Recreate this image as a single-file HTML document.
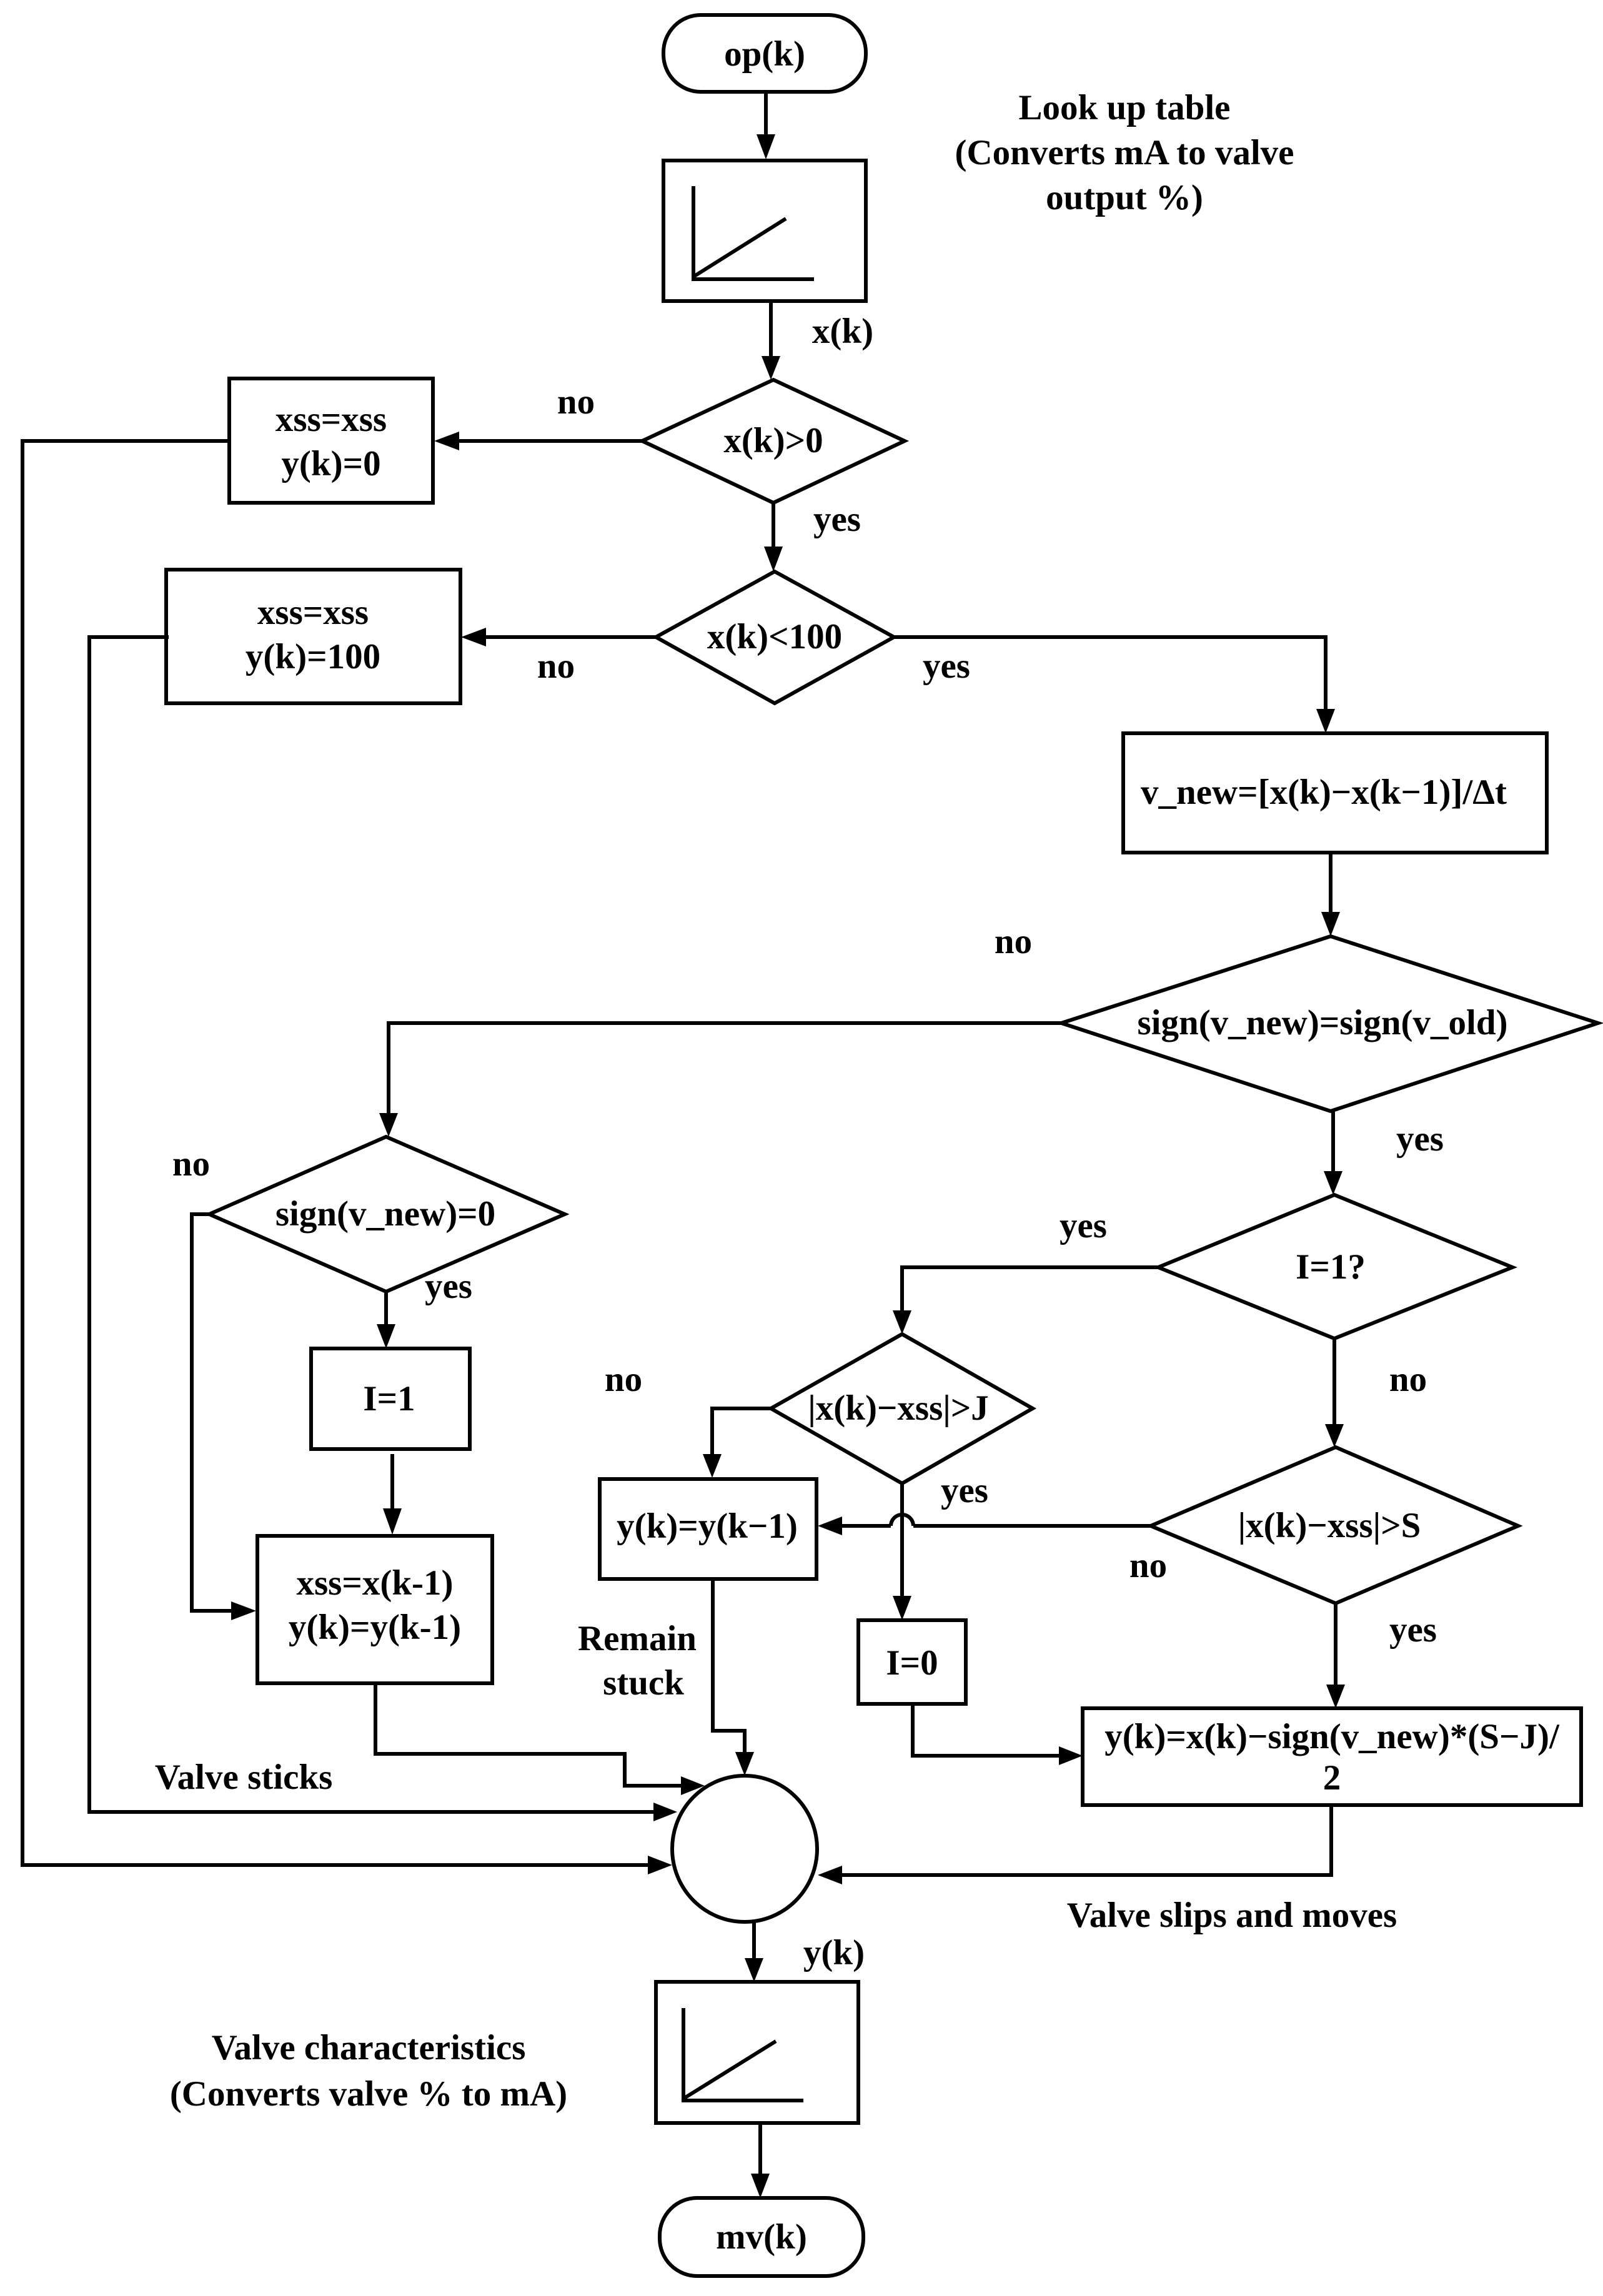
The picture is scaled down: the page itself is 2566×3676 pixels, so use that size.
<!DOCTYPE html>
<html><head><meta charset="utf-8"><style>
html,body{margin:0;padding:0;background:#fff}
svg{display:block}
text{font-family:"Liberation Serif",serif;font-weight:bold;font-size:57px;fill:#000}
</style></head><body>
<svg width="2566" height="3676" viewBox="0 0 2566 3676" xmlns="http://www.w3.org/2000/svg">
<g fill="none" stroke="#000" stroke-width="6">
<rect x="1062" y="24" width="324" height="123" rx="60" ry="60"/>
<rect x="1062" y="257" width="324" height="225"/>
<polyline points="1110,298 1110,447 1303,447" />
<line x1="1110" y1="443" x2="1258" y2="350"/>
<polygon points="1028,706 1238,608 1448,706 1238,805"/>
<rect x="367" y="606" width="326" height="199"/>
<polygon points="1050,1020 1240,915 1431,1020 1240,1126"/>
<rect x="266" y="912" width="471" height="214"/>
<rect x="1798" y="1174" width="678" height="191"/>
<polygon points="1699,1638 2130,1499 2558,1638 2130,1779"/>
<polygon points="335,1944 618,1820 904,1944 618,2068"/>
<rect x="498" y="2159" width="254" height="161"/>
<rect x="412" y="2459" width="376" height="236"/>
<polygon points="1854,2029 2136,1913 2421,2029 2136,2143"/>
<polygon points="1234,2255 1444,2136 1653,2255 1444,2375"/>
<rect x="960" y="2368" width="347" height="160"/>
<polygon points="1842,2443 2138,2317 2430,2443 2138,2567"/>
<rect x="1374" y="2594" width="172" height="134"/>
<rect x="1733" y="2735" width="798" height="155"/>
<ellipse cx="1192" cy="2960" rx="116" ry="117"/>
<rect x="1050" y="3173" width="324" height="226"/>
<polyline points="1094,3215 1094,3363 1286,3363"/>
<line x1="1094" y1="3360" x2="1242" y2="3268"/>
<rect x="1056" y="3519" width="326" height="125" rx="60" ry="60"/>

<line x1="1226" y1="147" x2="1226" y2="220"/>
<line x1="1234" y1="482" x2="1234" y2="575"/>
<line x1="1028" y1="706" x2="730" y2="706"/>
<polyline points="367,706 36,706 36,2986 1040,2986"/>
<line x1="1238" y1="805" x2="1238" y2="880"/>
<line x1="1050" y1="1020" x2="775" y2="1020"/>
<polyline points="270,1020 143,1020 143,2901 1050,2901"/>
<polyline points="1431,1020 2122,1020 2122,1140"/>
<line x1="2130" y1="1365" x2="2130" y2="1465"/>
<polyline points="1699,1638 622,1638 622,1787"/>
<line x1="2134" y1="1779" x2="2134" y2="1880"/>
<polyline points="335,1944 307,1944 307,2579 375,2579"/>
<line x1="618" y1="2068" x2="618" y2="2125"/>
<line x1="628" y1="2328" x2="628" y2="2420"/>
<polyline points="1854,2029 1444,2029 1444,2103"/>
<polyline points="1234,2255 1140,2255 1140,2333"/>
<polyline points="2136,2143 2136,2285"/>
<polyline points="1842,2443 1462,2443"/>
<path d="M1462,2443 a18,18 0 0 0 -36,0"/>
<line x1="1426" y1="2443" x2="1345" y2="2443"/>
<line x1="1444" y1="2375" x2="1444" y2="2560"/>
<line x1="2138" y1="2567" x2="2138" y2="2700"/>
<polyline points="1461,2728 1461,2811 1700,2811"/>
<polyline points="601,2695 601,2808 1000,2808 1000,2859 1095,2859"/>
<polyline points="1141,2528 1141,2771 1192,2771 1192,2808"/>
<polyline points="2131,2890 2131,3002 1345,3002"/>
<line x1="1207" y1="3077" x2="1207" y2="3140"/>
<line x1="1217" y1="3399" x2="1217" y2="3485"/>
</g>
<g fill="#000">
<polygon points="1211,215 1241,215 1226,255"/>
<polygon points="1219,570 1249,570 1234,608"/>
<polygon points="735,691 735,721 695,706"/>
<polygon points="1223,875 1253,875 1238,915"/>
<polygon points="778,1005 778,1035 738,1020"/>
<polygon points="2107,1135 2137,1135 2122,1174"/>
<polygon points="2115,1460 2145,1460 2130,1499"/>
<polygon points="607,1782 637,1782 622,1820"/>
<polygon points="2119,1875 2149,1875 2134,1913"/>
<polygon points="370,2564 370,2594 410,2579"/>
<polygon points="603,2120 633,2120 618,2159"/>
<polygon points="613,2415 643,2415 628,2457"/>
<polygon points="1429,2098 1459,2098 1444,2136"/>
<polygon points="1125,2328 1155,2328 1140,2366"/>
<polygon points="2121,2280 2151,2280 2136,2317"/>
<polygon points="1348,2428 1348,2458 1309,2443"/>
<polygon points="1429,2555 1459,2555 1444,2594"/>
<polygon points="2123,2697 2153,2697 2138,2735"/>
<polygon points="1695,2796 1695,2826 1733,2811"/>
<polygon points="1090,2844 1090,2874 1128,2859"/>
<polygon points="1177,2805 1207,2805 1192,2843"/>
<polygon points="1046,2886 1046,2916 1084,2901"/>
<polygon points="1037,2971 1037,3001 1076,2986"/>
<polygon points="1348,2987 1348,3017 1309,3002"/>
<polygon points="1192,3135 1222,3135 1207,3173"/>
<polygon points="1202,3480 1232,3480 1217,3519"/>
</g>
<g text-anchor="middle">
<text x="1224" y="105">op(k)</text>
<text x="1800" y="191">Look up table</text>
<text x="1800" y="263">(Converts mA to valve</text>
<text x="1800" y="335">output %)</text>
<text x="1349" y="549">x(k)</text>
<text x="1238" y="724">x(k)&gt;0</text>
<text x="922" y="662">no</text>
<text x="530" y="690">xss=xss</text>
<text x="530" y="761">y(k)=0</text>
<text x="1340" y="850">yes</text>
<text x="1240" y="1038">x(k)&lt;100</text>
<text x="501" y="999">xss=xss</text>
<text x="501" y="1070">y(k)=100</text>
<text x="890" y="1085">no</text>
<text x="1515" y="1085">yes</text>
<text x="2119" y="1287">v_new=[x(k)−x(k−1)]/Δt</text>
<text x="1622" y="1526">no</text>
<text x="2117" y="1656">sign(v_new)=sign(v_old)</text>
<text x="2273" y="1842">yes</text>
<text x="306" y="1882">no</text>
<text x="617" y="1962">sign(v_new)=0</text>
<text x="718" y="2078">yes</text>
<text x="1734" y="1981">yes</text>
<text x="2130" y="2047">I=1?</text>
<text x="623" y="2258">I=1</text>
<text x="998" y="2227">no</text>
<text x="2254" y="2227">no</text>
<text x="1438" y="2273">|x(k)−xss|&gt;J</text>
<text x="1544" y="2405">yes</text>
<text x="1132" y="2462">y(k)=y(k−1)</text>
<text x="2128" y="2461">|x(k)−xss|&gt;S</text>
<text x="1838" y="2525">no</text>
<text x="600" y="2553">xss=x(k-1)</text>
<text x="600" y="2624">y(k)=y(k-1)</text>
<text x="1020" y="2642">Remain</text>
<text x="1030" y="2713">stuck</text>
<text x="1460" y="2681">I=0</text>
<text x="2262" y="2628">yes</text>
<text x="2132" y="2799">y(k)=x(k)−sign(v_new)*(S−J)/</text>
<text x="2132" y="2865">2</text>
<text x="390" y="2864">Valve sticks</text>
<text x="1972" y="3085">Valve slips and moves</text>
<text x="1335" y="3145">y(k)</text>
<text x="590" y="3297">Valve characteristics</text>
<text x="590" y="3371">(Converts valve % to mA)</text>
<text x="1219" y="3600">mv(k)</text>
</g>
</svg>
</body></html>
